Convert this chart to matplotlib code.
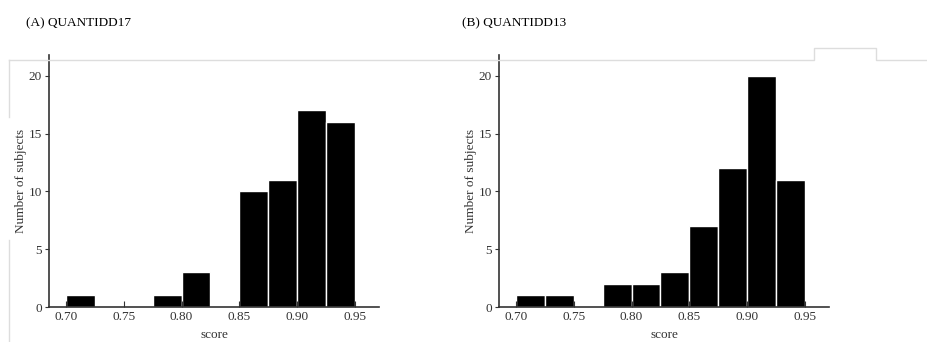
import numpy as np
import matplotlib.pyplot as plt
from matplotlib.lines import Line2D

plt.rcParams['font.family'] = ['Liberation Serif', 'DejaVu Serif']

bin_edges = [0.700, 0.725, 0.750, 0.775, 0.800, 0.825, 0.850, 0.875, 0.900, 0.925, 0.950]
counts_a = [1, 0, 0, 1, 3, 0, 10, 11, 17, 16]
counts_b = [1, 1, 0, 2, 2, 3, 7, 12, 20, 11]
titles = ['(A) QUANTIDD17', '(B) QUANTIDD13']
xticks = [0.70, 0.75, 0.80, 0.85, 0.90, 0.95]
yticks = [0, 5, 10, 15, 20]

W, H = 927, 342
fig = plt.figure(figsize=(W / 100, H / 100), dpi=100)

# axes boxes in pixels: (left, right)
boxes = [(49, 379), (499, 829)]
title_x = [26, 462]
spine_col = '#333333'

edges = np.array(bin_edges)
for (l, r), counts, title, tx in zip(boxes, [counts_a, counts_b], titles, title_x):
    ax = fig.add_axes([l / W, 1 - 307 / H, (r - l) / W, (307 - 55) / H])
    ax.bar(edges[:-1], counts, width=np.diff(edges), align='edge',
           color='black', edgecolor='white', linewidth=1.0)
    ax.set_xlim(0.6853, 0.9708)
    ax.set_ylim(0, 21.8)
    ax.set_xticks(xticks)
    ax.set_xticklabels(['%.2f' % t for t in xticks])
    ax.set_yticks(yticks)
    ax.spines['top'].set_visible(False)
    ax.spines['right'].set_visible(False)
    for s in ('left', 'bottom'):
        ax.spines[s].set_color(spine_col)
        ax.spines[s].set_linewidth(1.2)
    ax.tick_params(axis='x', direction='in', length=4, color=spine_col,
                   labelsize=9.5, labelcolor='#333333', pad=3)
    ax.tick_params(axis='y', direction='out', length=3, color=spine_col,
                   labelsize=9.5, labelcolor='#333333', pad=2)
    ax.set_xlabel('score', fontsize=9.5, color='#333333', labelpad=4)
    ax.set_ylabel('Number of subjects', fontsize=9.5, color='#333333', labelpad=1)
    fig.text(tx / W, 1 - 23 / H, title, fontsize=9.5, va='center', ha='left')

# faint scan lines from the source page
def px_line(xs, ys):
    fig.add_artist(Line2D([x / W for x in xs], [1 - y / H for y in ys],
                          color='#dddddd', linewidth=1.0))

px_line([9, 814, 814, 876, 876, 927], [60, 60, 48, 48, 60, 60])
px_line([9, 9], [60, 117])
px_line([9, 9], [240, 342])

fig.savefig('out.png', dpi=100)
